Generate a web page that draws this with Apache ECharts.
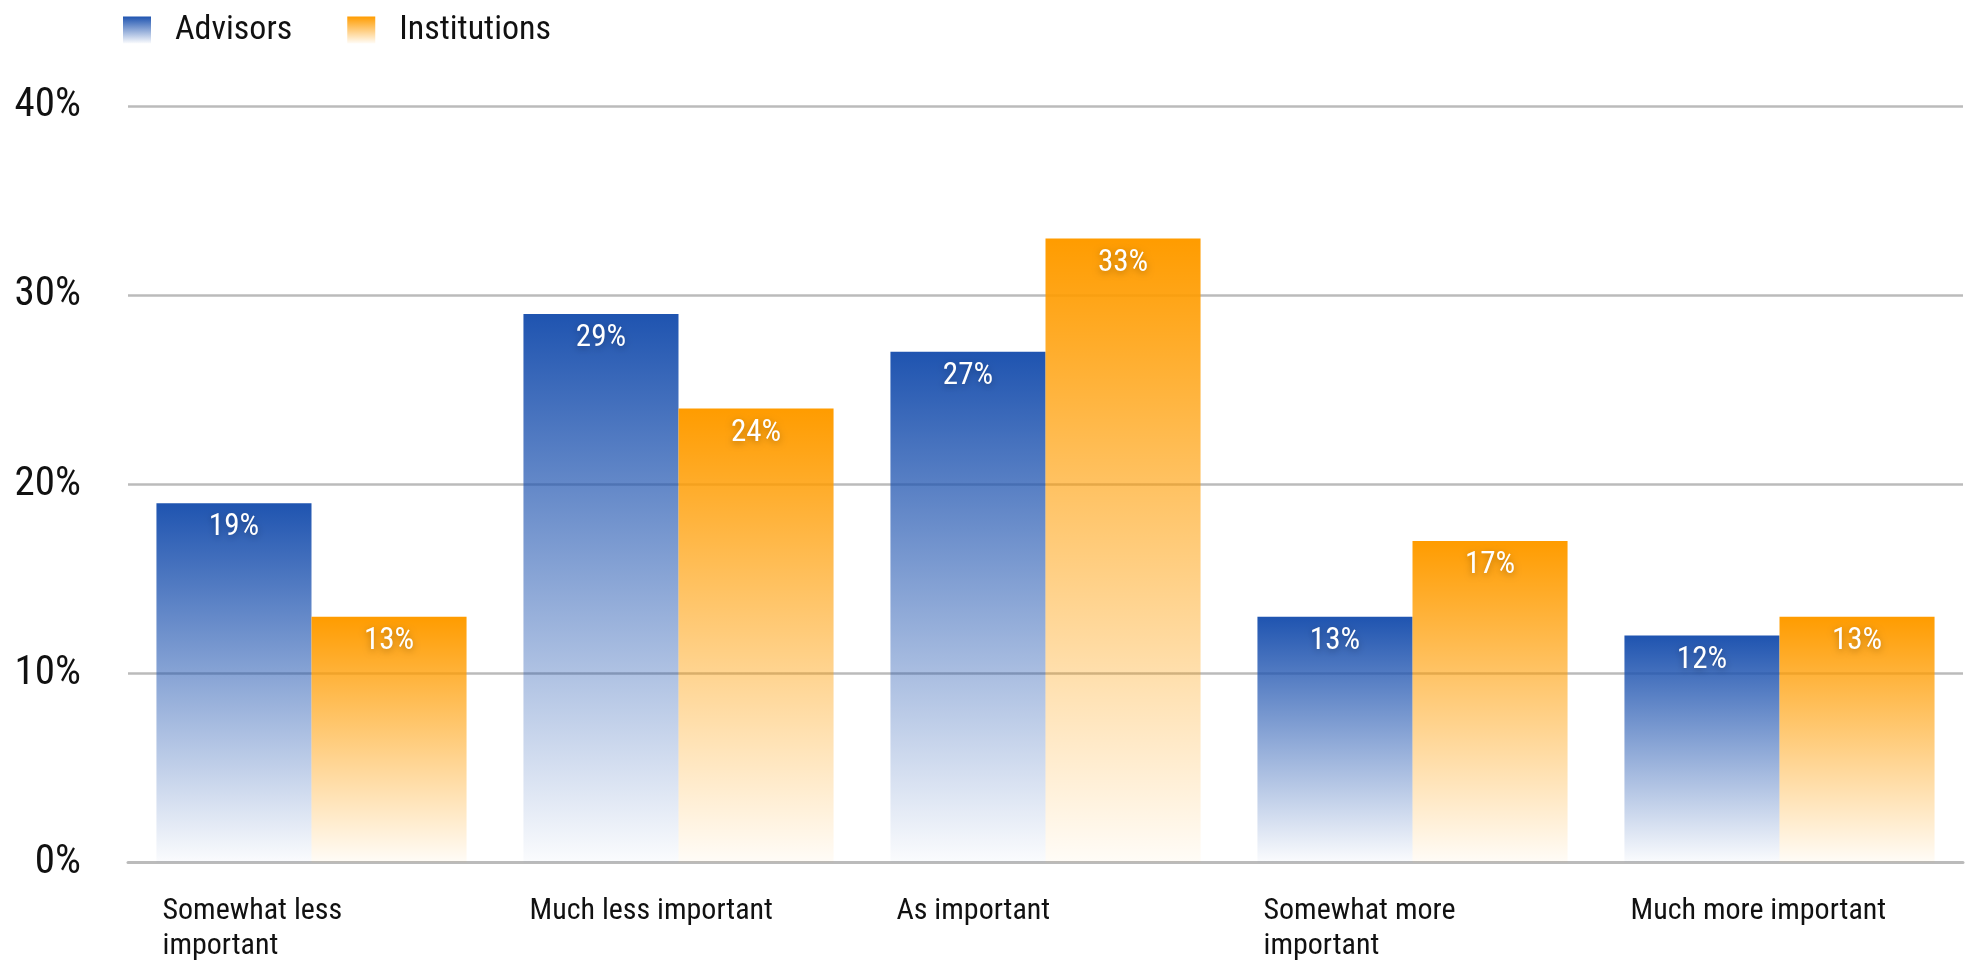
<!DOCTYPE html>
<html>
<head>
<meta charset="utf-8">
<script src="https://cdn.jsdelivr.net/npm/echarts@6/dist/echarts.min.js"></script>
<style>
  html, body { margin: 0; padding: 0; background: #ffffff; }
  #chart { width: 1972px; height: 961px; }
</style>
</head>
<body>
<div id="chart"></div>
<script>
// Survey answers: importance relative to before
const categories = [
  'Somewhat less\nimportant',
  'Much less important',
  'As important',
  'Somewhat more\nimportant',
  'Much more important'
];
const advisors = [19, 29, 27, 13, 12];
const institutions = [13, 24, 33, 17, 13];
const yTicks = { min: 0, max: 40, interval: 10 };

// Prefer a narrow face when one is installed; otherwise use DejaVu Sans Condensed
// and shrink the text so line widths stay similar.
function installed(family) {
  const c = document.createElement('canvas').getContext('2d');
  const probe = 'Much less important 0123456789%';
  return ['monospace', 'serif', 'sans-serif'].some(base => {
    c.font = '40px ' + base;
    const w0 = c.measureText(probe).width;
    c.font = '40px "' + family + '", ' + base;
    return Math.abs(c.measureText(probe).width - w0) > 0.5;
  }) && ['monospace', 'serif'].every(base => {
    c.font = '40px "' + family + '", monospace';
    const a = c.measureText(probe).width;
    c.font = '40px "' + family + '", serif';
    return Math.abs(c.measureText(probe).width - a) < 0.5;
  });
}
const narrow = ['Roboto Condensed', 'Liberation Sans Narrow', 'Arial Narrow', 'Noto Sans Condensed', 'Open Sans Condensed']
  .find(installed);
const FONT = narrow ? '"' + narrow + '", sans-serif' : '"DejaVu Sans Condensed", "DejaVu Sans", sans-serif';
const k = narrow ? 1 : 0.86;
const fs = n => Math.round(n * k);

function fade(top, bottom) {
  return new echarts.graphic.LinearGradient(0, 0, 0, 1, [
    { offset: 0, color: top },
    { offset: 1, color: bottom }
  ]);
}

const barLabel = {
  show: true,
  position: 'insideTop',
  distance: 9,
  color: '#ffffff',
  fontFamily: FONT,
  fontSize: fs(31),
  textShadowColor: 'rgba(0,0,0,0.3)',
  textShadowBlur: 7,
  textShadowOffsetY: 2,
  formatter: p => p.value + '%'
};

const chart = echarts.init(document.getElementById('chart'), null, { renderer: 'canvas' });
chart.setOption({
  animation: false,
  backgroundColor: '#ffffff',
  legend: {
    left: 118,
    top: 8,
    itemWidth: 28,
    itemHeight: 27,
    itemGap: 55,
    icon: 'rect',
    textStyle: {
      fontFamily: FONT,
      fontSize: fs(34),
      color: '#111111',
      padding: [0, 0, 0, 19]
    },
    data: ['Advisors', 'Institutions']
  },
  grid: { left: 128, right: 9, top: 106, bottom: 98, containLabel: false },
  xAxis: {
    type: 'category',
    data: categories,
    axisLine: { show: true, lineStyle: { color: '#bbbbbb', width: 3 } },
    axisTick: { show: false },
    axisLabel: {
      margin: 31,
      interval: 0,
      align: 'center',
      verticalAlign: 'top',
      formatter: v => v.split('\n').map(s => '{a|' + s + '}').join('\n'),
      rich: {
        a: {
          width: 298,
          align: 'left',
          fontFamily: FONT,
          fontSize: fs(30),
          lineHeight: 35,
          color: '#111111'
        }
      }
    }
  },
  yAxis: {
    type: 'value',
    min: yTicks.min,
    max: yTicks.max,
    interval: yTicks.interval,
    axisLine: { show: false },
    axisTick: { show: false },
    splitLine: { lineStyle: { color: '#bbbbbb', width: 2.5 } },
    axisLabel: {
      margin: 47,
      fontFamily: FONT,
      fontSize: fs(41),
      color: '#111111',
      formatter: '{value}%'
    }
  },
  series: [
    {
      name: 'Advisors',
      type: 'bar',
      data: advisors,
      barGap: '0%',
      barCategoryGap: '15.5%',
      itemStyle: { color: fade('#1f54b0', 'rgba(31,84,176,0.02)') },
      label: barLabel
    },
    {
      name: 'Institutions',
      type: 'bar',
      data: institutions,
      barGap: '0%',
      barCategoryGap: '15.5%',
      itemStyle: { color: fade('#ff9c00', 'rgba(255,156,0,0.03)') },
      label: barLabel
    }
  ]
});
</script>
</body>
</html>
